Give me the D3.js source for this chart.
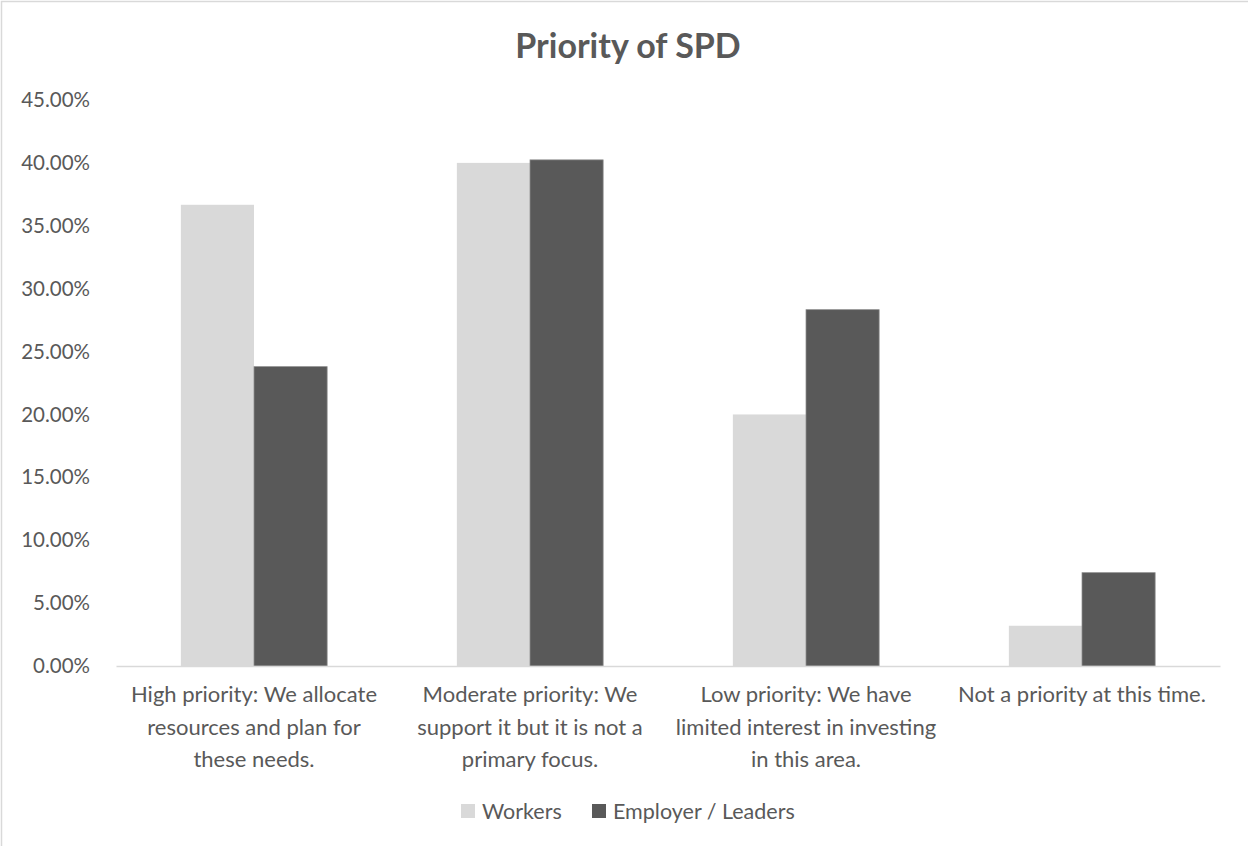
<!DOCTYPE html>
<html>
<head>
<meta charset="utf-8">
<script src="https://cdn.jsdelivr.net/npm/d3@7"></script>
<style>
  html, body { margin: 0; padding: 0; background: #fff; }
  svg { display: block; font-family: Lato, "Open Sans", sans-serif; }
</style>
</head>
<body>
<svg id="chart" width="1248" height="846"></svg>
<script>
// Survey response categories
const categories = [
  "High priority: We allocate resources and plan for these needs.",
  "Moderate priority: We support it but it is not a primary focus.",
  "Low priority: We have limited interest in investing in this area.",
  "Not a priority at this time."
];
// Series names and their share of responses (percent)
const seriesNames = ["Workers", "Employer / Leaders"];
const workers = [36.67, 40.0, 20.0, 3.2];
const employers = [23.8, 40.24, 28.33, 7.42];
const yTicks = [0, 5, 10, 15, 20, 25, 30, 35, 40, 45];
const title = "Priority of SPD";

const colors = ["#d9d9d9", "#595959"];
const textColor = "#595959";

const W = 1248, H = 846;
const margin = { left: 116, right: 28, top: 100, bottom: 180 };
const svg = d3.select("#chart");

// outer chart frame
svg.append("rect")
  .attr("x", 1.5).attr("y", 1.5)
  .attr("width", W + 20).attr("height", H + 20)
  .attr("fill", "#fff").attr("stroke", "#d9d9d9").attr("stroke-width", 1.5);

const x0 = d3.scaleBand()
  .domain(categories)
  .range([margin.left, W - margin.right])
  .paddingInner(0.47).paddingOuter(0.235);

const x1 = d3.scaleBand()
  .domain(seriesNames)
  .range([0, x0.bandwidth()]);

const y = d3.scaleLinear()
  .domain([0, 45])
  .range([H - margin.bottom, margin.top]);

const rows = categories.map((c, i) => ({ cat: c, vals: [workers[i], employers[i]] }));

// bars
const g = svg.append("g");
rows.forEach(r => {
  r.vals.forEach((v, j) => {
    g.append("rect")
      .attr("x", x0(r.cat) + x1(seriesNames[j]))
      .attr("y", y(v))
      .attr("width", x1.bandwidth())
      .attr("height", y(0) - y(v))
      .attr("fill", colors[j])
      .attr("stroke", j === 1 ? "#8c8c8c" : "none")
      .attr("stroke-width", 0.75);
  });
});

// y axis labels (no axis line)
const yAxis = d3.axisLeft(y)
  .tickValues(yTicks)
  .tickSize(0)
  .tickPadding(0)
  .tickFormat(d => d.toFixed(2) + "%");
const ya = svg.append("g")
  .attr("transform", `translate(90,0)`)
  .call(yAxis);
ya.select(".domain").remove();
ya.selectAll("text")
  .attr("fill", textColor)
  .style("font-size", "20.5px")
  .style("font-family", "Lato, sans-serif");

// baseline
const xa = svg.append("g")
  .attr("transform", `translate(0,${y(0)})`)
  .call(d3.axisBottom(x0).tickSize(0).tickFormat(""));
xa.select(".domain")
  .attr("stroke", "#d9d9d9").attr("stroke-width", 1.5);
xa.selectAll(".tick").remove();

// wrapped category labels
const labelSize = 22;
const maxLineWidth = 265;
const measure = svg.append("text")
  .style("font-size", labelSize + "px").style("visibility", "hidden");
function wrap(str) {
  const words = str.split(" ");
  const lines = [];
  let cur = "";
  words.forEach(w => {
    const test = cur ? cur + " " + w : w;
    measure.text(test);
    if (measure.node().getComputedTextLength() > maxLineWidth && cur) {
      lines.push(cur);
      cur = w;
    } else cur = test;
  });
  if (cur) lines.push(cur);
  return lines;
}
categories.forEach(c => {
  const t = svg.append("text")
    .attr("x", x0(c) + x0.bandwidth() / 2)
    .attr("y", y(0) + 36)
    .attr("text-anchor", "middle")
    .attr("fill", textColor)
    .style("font-size", labelSize + "px");
  wrap(c).forEach((ln, i) => {
    t.append("tspan")
      .attr("x", x0(c) + x0.bandwidth() / 2)
      .attr("dy", i === 0 ? 0 : 32.5)
      .text(ln);
  });
});
measure.remove();

// title
svg.append("text")
  .attr("x", 628).attr("y", 58)
  .attr("text-anchor", "middle")
  .attr("fill", textColor)
  .style("font-size", "34px")
  .style("font-weight", "bold")
  .text(title);

// legend
const legend = svg.append("g").attr("transform", "translate(0,811)");
const legendX = [461, 592];
seriesNames.forEach((s, i) => {
  legend.append("rect")
    .attr("x", legendX[i]).attr("y", -7)
    .attr("width", 14).attr("height", 14)
    .attr("fill", colors[i]);
  legend.append("text")
    .attr("x", legendX[i] + 21).attr("y", 8)
    .attr("fill", textColor)
    .style("font-size", "21.5px")
    .text(s);
});
</script>
</body>
</html>
